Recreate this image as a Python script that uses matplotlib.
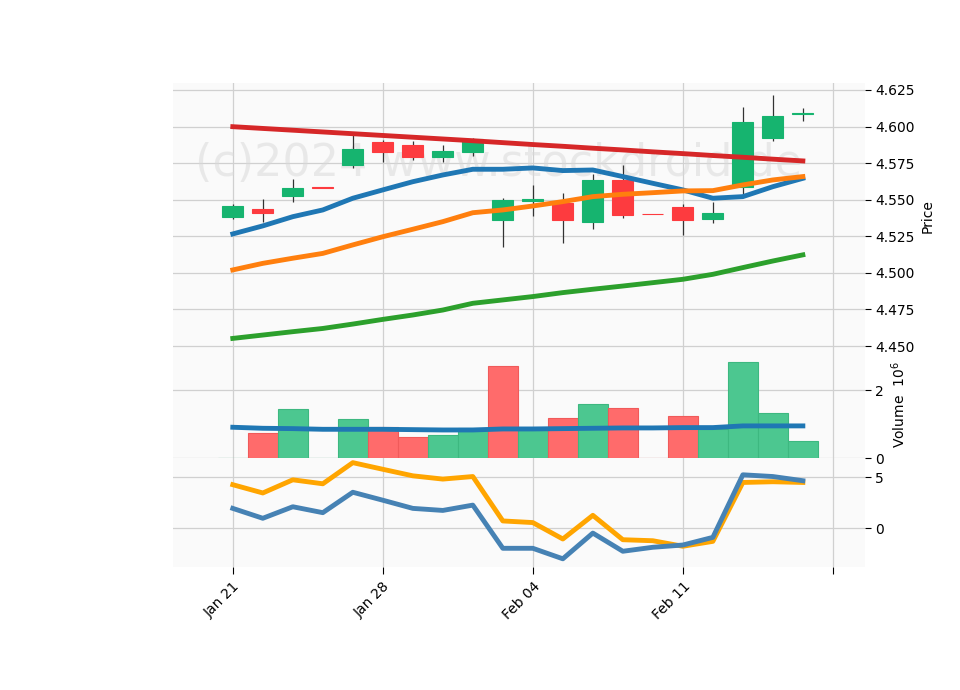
import matplotlib
matplotlib.use("Agg")
import matplotlib.pyplot as plt
import numpy as np

tick_labels = ["Jan 21", "Jan 28", "Feb 04", "Feb 11", ""]
tick_pos = [0, 5, 10, 15, 20]

opens  = [4.538, 4.5437, 4.5525, 4.558, 4.5737, 4.5895, 4.5872, 4.5795, 4.5828, 4.5364, 4.549, 4.548, 4.535, 4.5635, 4.540, 4.545, 4.537, 4.5585, 4.5924, 4.6085]
closes = [4.546, 4.5412, 4.558, 4.558, 4.5847, 4.5828, 4.5795, 4.5833, 4.5915, 4.5498, 4.5505, 4.5364, 4.5635, 4.5398, 4.540, 4.5364, 4.5409, 4.6031, 4.6072, 4.6090]
highs  = [4.547, 4.5503, 4.564, 4.558, 4.5958, 4.5908, 4.590, 4.5877, 4.592, 4.551, 4.5599, 4.5544, 4.5674, 4.574, 4.540, 4.5468, 4.5487, 4.6132, 4.6216, 4.6125]
lows   = [4.537, 4.535, 4.5487, 4.558, 4.5715, 4.5756, 4.577, 4.5758, 4.5797, 4.5177, 4.5387, 4.5204, 4.530, 4.5374, 4.540, 4.5257, 4.5344, 4.5532, 4.5904, 4.6036]

ma_red    = [4.5999, 4.5987, 4.5975, 4.5963, 4.5951, 4.5939, 4.5927, 4.5915, 4.5903, 4.5890, 4.5877, 4.5865, 4.5852, 4.5840, 4.5827, 4.5815, 4.5802, 4.5790, 4.5777, 4.5765]
ma_blue   = [4.5266, 4.5321, 4.5384, 4.5430, 4.5510, 4.5567, 4.5623, 4.5669, 4.5708, 4.5708, 4.5717, 4.5699, 4.5703, 4.5658, 4.5612, 4.5567, 4.5510, 4.5521, 4.5589, 4.5646]
ma_orange = [4.5020, 4.5065, 4.5100, 4.5133, 4.5191, 4.5247, 4.5298, 4.5350, 4.5411, 4.5430, 4.5457, 4.5487, 4.5521, 4.5537, 4.5548, 4.5560, 4.5562, 4.5601, 4.5635, 4.5658]
ma_green  = [4.4552, 4.4575, 4.4598, 4.4620, 4.4650, 4.4682, 4.4712, 4.4746, 4.4792, 4.4815, 4.4838, 4.4865, 4.4888, 4.4910, 4.4933, 4.4956, 4.4990, 4.5036, 4.5081, 4.5123]

volume   = [0, 0.75, 1.45, 0, 1.16, 0.92, 0.62, 0.69, 0.89, 2.71, 0.86, 1.19, 1.6, 1.48, 0, 1.25, 0.86, 2.83, 1.34, 0.52]
vol_up   = [True, False, True, True, True, False, False, True, True, False, True, False, True, False, False, False, True, True, True, True]
vol_ma   = [0.91, 0.88, 0.87, 0.85, 0.85, 0.85, 0.84, 0.83, 0.83, 0.86, 0.86, 0.87, 0.88, 0.89, 0.89, 0.90, 0.90, 0.95, 0.95, 0.95]

osc_orange = [4.26, 3.45, 4.74, 4.35, 6.42, 5.77, 5.13, 4.81, 5.06, 0.71, 0.55, -1.06, 1.26, -1.13, -1.23, -1.77, -1.29, 4.48, 4.55, 4.48]
osc_blue   = [1.94, 0.97, 2.10, 1.52, 3.52, 2.74, 1.94, 1.74, 2.26, -1.97, -1.97, -3.0, -0.48, -2.26, -1.87, -1.65, -0.90, 5.23, 5.06, 4.65]

UP, DN = "#16b46f", "#fd3b3f"
VUP, VDN = "#4cc790", "#ff6b6b"
x = np.arange(len(opens))

fig = plt.figure(figsize=(9.6, 6.9), dpi=100)
L, W = 0.180, 0.721
ax1 = fig.add_axes([L, 0.4928, W, 0.387])
ax2 = fig.add_axes([L, 0.336, W, 0.1565], sharex=ax1)
ax3 = fig.add_axes([L, 0.178, W, 0.158], sharex=ax1)

for ax in (ax1, ax2, ax3):
    ax.set_facecolor("#fafafa")
    ax.grid(True, color="#d0d0d0", lw=0.9)
    ax.set_axisbelow(True)
    for s in ax.spines.values():
        s.set_visible(False)
    ax.yaxis.tick_right()
    ax.yaxis.set_label_position("right")
    ax.tick_params(labelsize=10, length=4, color="black")

for i in x:
    c = UP if closes[i] >= opens[i] else DN
    if i == 3 or i == 14:
        c = DN
    ax1.vlines(i, lows[i], highs[i], color="#333333", lw=0.9, zorder=2)
    lo, hi = min(opens[i], closes[i]), max(opens[i], closes[i])
    ax1.bar(i, max(hi - lo, 0.0004), bottom=lo, width=0.7, color=c, edgecolor=c, lw=0.8, zorder=3)

ax1.plot(x, ma_red, color="#d62728", lw=3.5, zorder=4)
ax1.plot(x, ma_blue, color="#1f77b4", lw=3.5, zorder=4)
ax1.plot(x, ma_orange, color="#ff7f0e", lw=3.5, zorder=4)
ax1.plot(x, ma_green, color="#2ca02c", lw=3.5, zorder=4)
ax1.set_ylim(4.4473, 4.6298)
ax1.set_yticks([4.450, 4.475, 4.500, 4.525, 4.550, 4.575, 4.600, 4.625])
ax1.set_yticklabels([f"{v:.3f}" for v in [4.450, 4.475, 4.500, 4.525, 4.550, 4.575, 4.600, 4.625]])
ax1.set_ylabel("Price")
ax1.text(0.47, 0.70, "(c)2024 www.stockdroid.de", transform=ax1.transAxes, ha="center", va="center",
         fontsize=32, color="#d8d8d8", alpha=0.5, zorder=1)
plt.setp(ax1.get_xticklabels(), visible=False)
ax1.tick_params(axis="x", length=0)

vc = [VUP if u else VDN for u in vol_up]
ec = ["#3db880" if u else "#f05a5a" for u in vol_up]
ax2.bar(x, volume, width=1.0, color=vc, edgecolor=ec, lw=0.8, zorder=2)
ax2.plot(x, vol_ma, color="#1f77b4", lw=3.5, zorder=3)
ax2.set_ylim(0, 3.18)
ax2.set_yticks([0, 2])
ax2.set_ylabel("Volume  $10^6$")
plt.setp(ax2.get_xticklabels(), visible=False)
ax2.tick_params(axis="x", length=0)

ax3.plot(x, osc_orange, color="orange", lw=3.5)
ax3.plot(x, osc_blue, color="steelblue", lw=3.5)
ax3.set_ylim(-3.82, 6.86)
ax3.set_yticks([0, 5])
ax3.set_xlim(-2, 21.07)
ax3.set_xticks(tick_pos)
ax3.set_xticklabels(tick_labels, rotation=45, ha="right", rotation_mode="anchor")
ax3.tick_params(axis="x", length=5)

fig.savefig("out.png", dpi=100)
